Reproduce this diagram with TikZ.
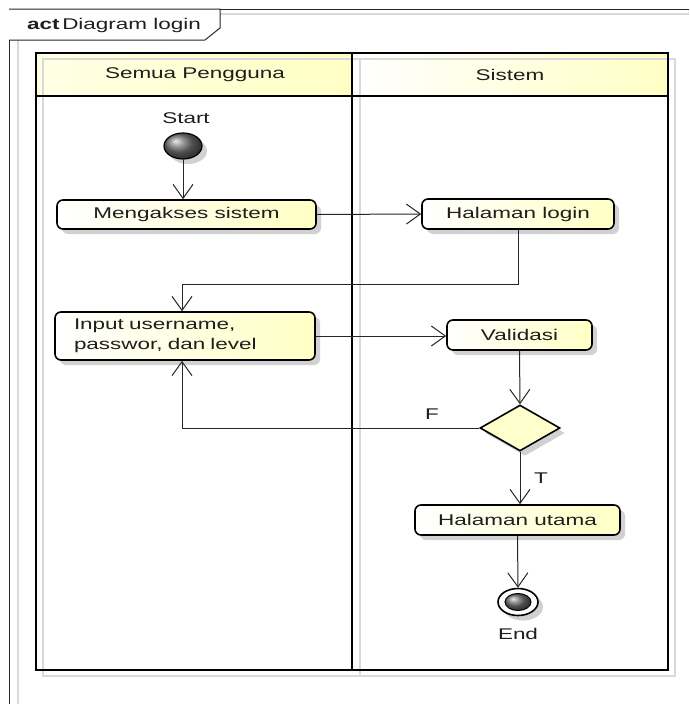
\documentclass[tikz,border=0pt]{standalone}
\usepackage{fontspec}
\setmainfont{Liberation Sans}
\newfontfamily\wide[FakeStretch=1.45]{Liberation Sans}
\usetikzlibrary{arrows.meta,shapes.geometric,shadows,calc}
\definecolor{ylw}{RGB}{255,255,196}
\definecolor{txt}{RGB}{30,30,30}
\tikzset{
  lbl/.style={font=\wide\fontsize{15.5}{20}\selectfont, text=txt, inner sep=0pt},
  shd/.style={drop shadow={shadow xshift=5pt, shadow yshift=-5pt, fill=black!30, opacity=0.6}},
  actbox/.style={lbl, rectangle, rounded corners=6pt, draw=black, line width=1.6pt,
     left color=white, right color=ylw, shd},
  flow/.style={draw=black!85, line width=1pt, -{Straight Barb[length=14pt,width=20pt,line width=1pt]}},
  lanebd/.style={draw=black, line width=2.6pt},
  ghost/.style={draw=black!15, line width=1.5pt}
}
\begin{document}
\begin{tikzpicture}[x=1pt,y=-1pt]
\useasboundingbox (0,0) rectangle (689,704);
% frame
\draw[ghost] (18,40) -- (18,704);
\draw[ghost] (220,14) -- (689,14);
\draw[line width=1pt, black!85] (689,9) -- (9,9) -- (9,704);
\draw[line width=1pt, black!85, fill=white] (9,9) -- (220,9) -- (220,28) -- (205,40) -- (9,40);
\node[lbl, anchor=west] (title) at (27,25) {\textbf{act}\,Diagram login};
% lanes
\shade[left color=ylw!45, right color=ylw] (36,53) rectangle (352,96);
\shade[left color=white, right color=ylw] (352,53) rectangle (668,96);
\draw[ghost] (43,59) rectangle (675,676);
\draw[ghost] (360,59) -- (360,676);
\draw[lanebd] (36,53) rectangle (668,670);
\draw[lanebd] (352,53) -- (352,670);
\draw[draw=black, line width=2pt] (36,96) -- (668,96);
\node[lbl] (h1) at (195,75) {Semua Pengguna};
\node[lbl] (h2) at (510,75) {Sistem};
% nodes
\node[lbl] (startlbl) at (186,118) {Start};
\node[ellipse, draw=black, line width=1.2pt, shading=ball, ball color=black!55,
      minimum width=38pt, minimum height=26pt, inner sep=0pt, shd] (start) at (183,146) {};
\node[actbox, minimum width=259pt, minimum height=29pt] (m) at (186.5,214.5) {Mengakses sistem};
\node[actbox, minimum width=192pt, minimum height=30pt] (hl) at (518,214) {Halaman login};
\node[actbox, text width=222pt, align=left, inner xsep=19pt, minimum height=48pt] (in) at (185,336)
      {Input username,\\passwor, dan level};
\node[actbox, minimum width=145pt, minimum height=30pt] (val) at (519.5,335) {Validasi};
\node[diamond, draw=black, line width=1.6pt, fill=ylw!85, minimum width=80pt, minimum height=46pt,
      inner sep=0pt, shd] (dec) at (520,428) {};
\node[actbox, minimum width=205pt, minimum height=30pt] (hu) at (517.5,520) {Halaman utama};
\node[ellipse, draw=black, line width=1.6pt, fill=white, minimum width=40pt, minimum height=27pt,
      inner sep=0pt, shd] (end) at (518,602) {};
\node[ellipse, draw=black, line width=1pt, shading=ball, ball color=black!55,
      minimum width=26pt, minimum height=17pt, inner sep=0pt] (endin) at (end.center) {};
\node[lbl] (endlbl) at (518,634) {End};
% connectors
\draw[flow] (start.south) -- (start.south |- m.north);
\draw[flow] (m.east) -- (hl.west);
\coordinate (inTop) at ([xshift=-3pt]in.north);
\coordinate (inBot) at ([xshift=-3pt]in.south);
\draw[flow] (hl.south) -- ++(0,55) -| (inTop);
\draw[flow] (in.east) -- (in.east -| val.west);
\draw[flow] (val.south) -- (dec.north);
\draw[flow] (dec.west) -| (inBot);
\node[lbl] (F) at (432,414) {F};
\draw[flow] (dec.south) -- (dec.south |- hu.north);
\node[lbl] (T) at (541,478) {T};
\draw[flow] (hu.south) -- (end.north);
\end{tikzpicture}
\end{document}
